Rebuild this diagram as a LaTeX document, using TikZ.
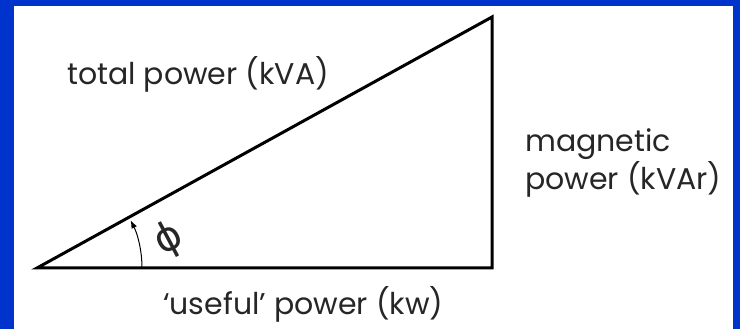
\documentclass[tikz,border=0pt]{standalone}
\usepackage{fontspec}
\setmainfont{Poppins}
\newfontfamily\symfont{DejaVu Sans}
\usepackage{xcolor}
\usetikzlibrary{arrows.meta,calc}
\definecolor{slideblue}{RGB}{0,51,204}

\begin{document}
\begin{tikzpicture}[x=1pt, y=1pt, >={Latex[length=8pt,width=6pt]},
  side/.style={line width=3pt, line join=miter},
  lbl/.style={inner sep=0pt, font=\fontsize{30}{38}\selectfont, text=black!85}]
\fill[slideblue] (0,0) rectangle (740,329);
\fill[white] (14,0) rectangle (733,323);
\useasboundingbox (0,0) rectangle (740,329);
\coordinate (base left) at (37,61);
\coordinate (base right) at (492,61);
\coordinate (apex) at (492,312);
\draw[side] (base left) -- (base right) -- (apex) -- cycle;
\coordinate (arcbeg) at ($(base left)+(105,0)$);
\draw[->, line width=1pt] (arcbeg) arc[start angle=0, end angle=27, radius=105];
\node[lbl, rotate=28, font=\symfont\fontsize{40}{40}\selectfont] (phi) at (169,89) {ϕ};
\node[lbl, anchor=base west] (total) at (67,244) {total power (kVA)};
\node[lbl, anchor=base west, align=left] (magnetic) at (525,139) {magnetic\\power (kVAr)};
\node[lbl, anchor=base west] (useful) at (163,14) {‘useful’ power (kw)};
\end{tikzpicture}
\end{document}
